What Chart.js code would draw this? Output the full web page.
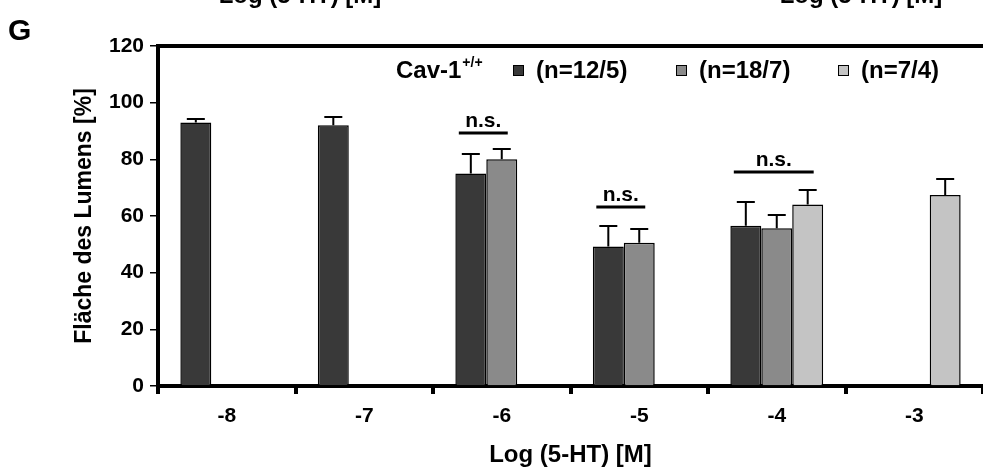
<!DOCTYPE html>
<html>
<head>
<meta charset="utf-8">
<script src="https://cdn.jsdelivr.net/npm/chart.js@4.4.1/dist/chart.umd.min.js"></script>
<style>
    html, body { margin: 0; padding: 0; background: #ffffff; overflow: hidden; }
    #wrap { position: relative; width: 983px; height: 472px; }
</style>
</head>
<body>
<div id="wrap"><canvas id="lumenChart" width="983" height="472"></canvas></div>
<script>
// Log dose categories on the x axis
const doses = ['-8', '-7', '-6', '-5', '-4', '-3'];
const seriesLabels = ['(n=12/5)', '(n=18/7)', '(n=7/4)'];
const seriesColors = ['#393939', '#8a8a8a', '#c4c4c4'];

// Mean lumen area [%] and SEM (upper whisker only)
const darkValues = [93, 92, 75, 49.2, 56.6, null];
const darkErrors = [1.3, 3, 7, 7.4, 8.3, null];
const midValues = [null, null, 80, 50.6, 55.7, null];
const midErrors = [null, null, 3.5, 4.8, 4.8, null];
const lightValues = [null, null, null, null, 64.1, 67.4];
const lightErrors = [null, null, null, null, 5.2, 5.8];

const yTicks = [0, 20, 40, 60, 80, 100, 120];

// "n.s." brackets: category and height of the bar line
const nsGroups = ['-6', '-5', '-4'];
const nsLevels = [89.3, 63.3, 75.5];

const FONT = "'Liberation Sans', Arial, sans-serif";
const allErrors = [darkErrors, midErrors, lightErrors];

// Draw upward error whiskers with a cap on every bar
const errorBarPlugin = {
    id: 'errorBars',
    afterDatasetsDraw(chart) {
        const ctx = chart.ctx;
        const yScale = chart.scales.y;
        ctx.save();
        ctx.strokeStyle = '#000';
        ctx.lineWidth = 2;
        chart.data.datasets.forEach((ds, i) => {
            const meta = chart.getDatasetMeta(i);
            meta.data.forEach((bar, j) => {
                const v = ds.data[j];
                const e = allErrors[i][j];
                if (v === null || e === null) return;
                const yTop = Math.round(yScale.getPixelForValue(v + e));
                ctx.beginPath();
                ctx.moveTo(bar.x, bar.y);
                ctx.lineTo(bar.x, yTop);
                ctx.moveTo(bar.x - 9, yTop);
                ctx.lineTo(bar.x + 9, yTop);
                ctx.stroke();
            });
        });
        ctx.restore();
    }
};

// "n.s." lines spanning the bars of a dose group
const nsPlugin = {
    id: 'nsMarks',
    afterDatasetsDraw(chart) {
        const ctx = chart.ctx;
        const yScale = chart.scales.y;
        ctx.save();
        nsGroups.forEach((g, k) => {
            const j = doses.indexOf(g);
            const xs = [];
            chart.data.datasets.forEach((ds, i) => {
                if (ds.data[j] !== null) xs.push(chart.getDatasetMeta(i).data[j].x);
            });
            const x0 = Math.min(...xs) - 12;
            const x1 = Math.max(...xs) + 6;
            const y = Math.round(yScale.getPixelForValue(nsLevels[k]));
            ctx.strokeStyle = '#000';
            ctx.lineWidth = 3;
            ctx.beginPath();
            ctx.moveTo(x0, y);
            ctx.lineTo(x1, y);
            ctx.stroke();
            ctx.fillStyle = '#000';
            ctx.font = 'bold 21px ' + FONT;
            ctx.textAlign = 'center';
            ctx.textBaseline = 'alphabetic';
            ctx.fillText('n.s.', (x0 + x1) / 2, y - 6);
        });
        ctx.restore();
    }
};

// Frame top line, panel letter, legend and the cut-off labels of the panels above
const decorPlugin = {
    id: 'decor',
    afterDraw(chart) {
        const ctx = chart.ctx;
        const area = chart.chartArea;
        ctx.save();
        ctx.strokeStyle = '#000';
        ctx.lineWidth = 4;
        ctx.beginPath();
        ctx.moveTo(area.left - 2, area.top);
        ctx.lineTo(area.right, area.top);
        ctx.stroke();

        ctx.fillStyle = '#000';
        ctx.textBaseline = 'alphabetic';
        ctx.textAlign = 'left';
        ctx.font = 'bold 30px ' + FONT;
        ctx.fillText('G', 8, 40);

        ctx.font = 'bold 24px ' + FONT;
        ctx.textAlign = 'center';
        ctx.fillText('Log (5-HT) [M]', 300, 3);
        ctx.fillText('Log (5-HT) [M]', 861, 3);

        // legend
        ctx.textAlign = 'left';
        ctx.font = 'bold 24px ' + FONT;
        ctx.fillText('Cav-1', 396, 78);
        const w = ctx.measureText('Cav-1').width;
        ctx.font = 'bold 14px ' + FONT;
        ctx.fillText('+/+', 396 + w + 1, 67);
        const boxX = [513, 676, 838];
        seriesLabels.forEach((lab, i) => {
            ctx.fillStyle = seriesColors[i];
            ctx.fillRect(boxX[i], 65, 11, 11);
            ctx.strokeStyle = '#000';
            ctx.lineWidth = 1;
            ctx.strokeRect(boxX[i] + 0.5, 65.5, 10, 10);
            ctx.fillStyle = '#000';
            ctx.font = 'bold 24px ' + FONT;
            ctx.fillText(lab, boxX[i] + 23, 78);
        });
        ctx.restore();
    }
};

function makeDataset(label, values, color) {
    return {
        label: label,
        data: values,
        backgroundColor: color,
        borderColor: '#000',
        borderWidth: 1.5,
        borderSkipped: 'bottom',
        categoryPercentage: 0.675,
        barPercentage: 1.0
    };
}

new Chart(document.getElementById('lumenChart').getContext('2d'), {
    type: 'bar',
    data: {
        labels: doses,
        datasets: [
            makeDataset(seriesLabels[0], darkValues, seriesColors[0]),
            makeDataset(seriesLabels[1], midValues, seriesColors[1]),
            makeDataset(seriesLabels[2], lightValues, seriesColors[2])
        ]
    },
    options: {
        responsive: false,
        animation: false,
        devicePixelRatio: 1,
        layout: { padding: { top: 46, left: 0, right: 0, bottom: 0 } },
        plugins: {
            legend: { display: false },
            tooltip: { enabled: false }
        },
        scales: {
            x: {
                grid: {
                    offset: true,
                    drawOnChartArea: false,
                    drawTicks: true,
                    tickLength: 8,
                    lineWidth: 4,
                    color: '#000'
                },
                border: { display: true, width: 4, color: '#000' },
                ticks: { color: '#000', padding: 10, font: { family: FONT, size: 21, weight: 'bold' } },
                title: {
                    display: true,
                    text: 'Log (5-HT) [M]',
                    color: '#000',
                    font: { family: FONT, size: 24, weight: 'bold' },
                    padding: { top: 0, bottom: 2 }
                },
                afterFit(scale) { scale.height = 86; }
            },
            y: {
                min: yTicks[0],
                max: yTicks[yTicks.length - 1],
                afterBuildTicks(scale) { scale.ticks = yTicks.map(v => ({ value: v })); },
                grid: {
                    drawOnChartArea: false,
                    drawTicks: true,
                    tickLength: 8,
                    lineWidth: 1.5,
                    color: '#000'
                },
                border: { display: true, width: 4, color: '#000' },
                ticks: { color: '#000', padding: 6, font: { family: FONT, size: 21, weight: 'bold' } },
                title: {
                    display: true,
                    text: 'Fläche des Lumens [%]',
                    color: '#000',
                    font: { family: FONT, size: 23, weight: 'bold' },
                    padding: { top: 71, bottom: 0 }
                },
                afterFit(scale) { scale.width = 158; }
            }
        }
    },
    plugins: [errorBarPlugin, nsPlugin, decorPlugin]
});
</script>
</body>
</html>
